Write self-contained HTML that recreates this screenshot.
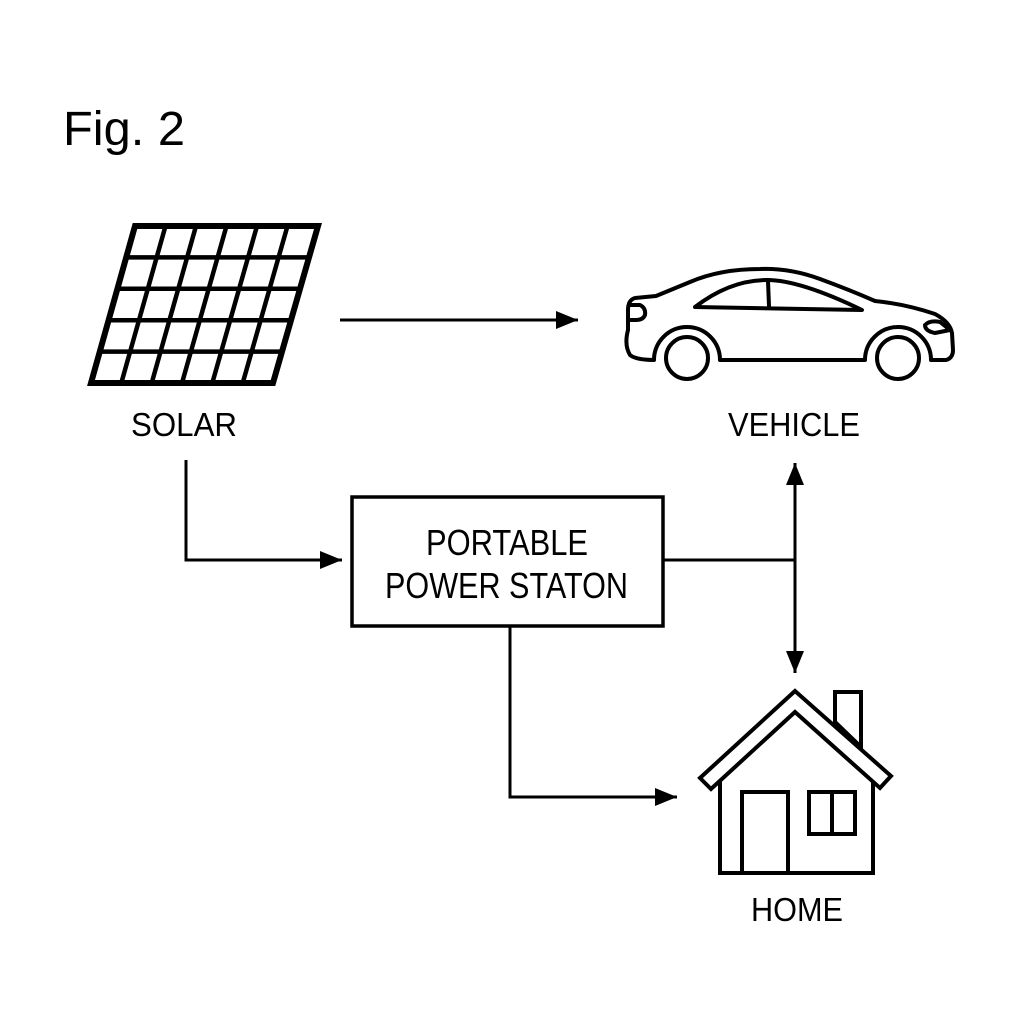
<!DOCTYPE html>
<html><head><meta charset="utf-8"><style>
html,body{margin:0;padding:0;background:#fff;}
svg{display:block;}
text{font-family:"Liberation Sans",sans-serif;fill:#000;}
</style></head><body>
<svg width="1024" height="1024" viewBox="0 0 1024 1024" xmlns="http://www.w3.org/2000/svg">
<defs>
<marker id="ah" viewBox="0 0 22 18" refX="22" refY="9" markerWidth="22" markerHeight="18" markerUnits="userSpaceOnUse" orient="auto-start-reverse">
<path d="M0,0 L22,9 L0,18 z" fill="#000"/>
</marker>
</defs>
<rect width="1024" height="1024" fill="#fff"/>
<text x="63" y="145" font-size="48" textLength="122" lengthAdjust="spacingAndGlyphs">Fig. 2</text>

<g stroke="#000" stroke-width="4.5" fill="none" stroke-linejoin="miter">
<polygon points="135,226 318,226 273,383 91,383" stroke-width="6"/>
<line x1="126.2" y1="257.4" x2="309" y2="257.4"/>
<line x1="117.4" y1="288.8" x2="300" y2="288.8"/>
<line x1="108.6" y1="320.2" x2="291" y2="320.2"/>
<line x1="99.8" y1="351.6" x2="282" y2="351.6"/>
<line x1="165.5" y1="226" x2="121.3" y2="383"/>
<line x1="196" y1="226" x2="151.7" y2="383"/>
<line x1="226.5" y1="226" x2="182" y2="383"/>
<line x1="257" y1="226" x2="212.3" y2="383"/>
<line x1="287.5" y1="226" x2="242.7" y2="383"/>
</g>
<text x="131" y="436" font-size="33" textLength="106" lengthAdjust="spacingAndGlyphs">SOLAR</text>

<g stroke="#000" stroke-width="4" fill="none" stroke-linejoin="round" stroke-linecap="round">
<path d="M654,360 A33,33 0 0 1 720,360 L865,360 A33,33 0 0 1 931,360 L946,360 Q953,358 953,350 L952,333 Q950,322 935,314 Q905,304 875,301 Q850,290 820,279 Q790,268 760,269 Q720,269 690,282 L656,296 L635,298 Q628,300 628,310 L628,330 Q624,345 630,355 Q636,360 654,360 Z"/>
<path d="M695,307 Q730,280 767,280 Q800,280 862,310 Z"/>
<line x1="768" y1="281" x2="769" y2="306"/>
<path d="M630,305 L640,305 Q646,308 645,315 Q643,320 636,320 L630,320"/>
<path d="M925,325 Q930,320 940,322 L950,330 L935,333 Q925,331 925,325 Z"/>
<circle cx="687" cy="358" r="21"/>
<circle cx="898" cy="358" r="21"/>
</g>
<text x="728" y="436" font-size="33" textLength="132" lengthAdjust="spacingAndGlyphs">VEHICLE</text>

<g stroke="#000" stroke-width="3" fill="none">
<line x1="340" y1="320" x2="578" y2="320" marker-end="url(#ah)"/>
<polyline points="186,460 186,560 342,560" marker-end="url(#ah)"/>
<line x1="663" y1="560" x2="795" y2="560"/>
<line x1="795" y1="463" x2="795" y2="673" marker-start="url(#ah)" marker-end="url(#ah)"/>
<polyline points="510,626 510,797 677,797" marker-end="url(#ah)"/>
</g>

<rect x="352" y="497" width="311" height="129" fill="#fff" stroke="#000" stroke-width="3.5"/>
<text x="426" y="555" font-size="36" textLength="162" lengthAdjust="spacingAndGlyphs">PORTABLE</text>
<text x="385" y="598" font-size="36" textLength="243" lengthAdjust="spacingAndGlyphs">POWER STATON</text>

<g stroke="#000" stroke-width="4" fill="none" stroke-linejoin="miter">
<polygon points="835,692 861,692 861,747 835,722" fill="#fff"/>
<polyline points="720,782 720,873 873,873 873,782"/>
<polygon points="795,691 891,776 880,788 795,712 711,789 700,778" fill="#fff"/>
<rect x="742" y="792" width="46" height="81"/>
<rect x="809" y="792" width="46" height="42"/>
<line x1="832" y1="792" x2="832" y2="834"/>
</g>
<text x="751" y="921" font-size="33" textLength="92" lengthAdjust="spacingAndGlyphs">HOME</text>
</svg>
</body></html>
